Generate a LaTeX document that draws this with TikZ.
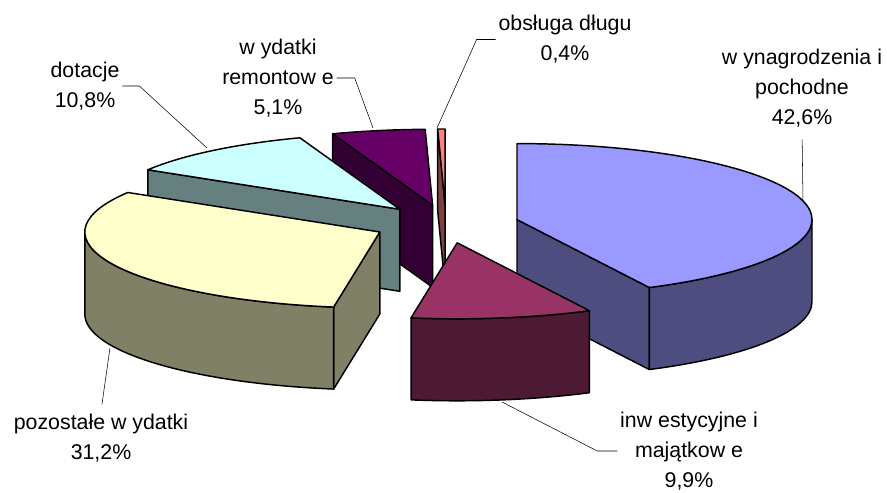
\documentclass[tikz,border=0pt]{standalone}
\usepackage{fontspec}
\setmainfont{Liberation Sans}
\usetikzlibrary{calc}
\definecolor{wyntop}{HTML}{9999FF}
\definecolor{wynside}{HTML}{4D4D80}
\definecolor{inwtop}{HTML}{993366}
\definecolor{inwside}{HTML}{4D1A33}
\definecolor{poztop}{HTML}{FFFFCC}
\definecolor{pozside}{HTML}{808066}
\definecolor{dottop}{HTML}{CCFFFF}
\definecolor{dotside}{HTML}{668080}
\definecolor{remtop}{HTML}{660066}
\definecolor{remside}{HTML}{330033}
\definecolor{obstop}{HTML}{FF8080}
\definecolor{obsside}{HTML}{804040}
\tikzstyle{fc}=[draw=black,line width=1.1pt,line join=round]
\tikzstyle{lbl}=[align=center,font=\fontsize{16}{22.5}\selectfont,inner sep=2pt]
\tikzstyle{ld}=[draw=black,line width=0.4pt]

\begin{document}
\begin{tikzpicture}[x=0.75pt,y=0.75pt]
\useasboundingbox (0,0) rectangle (887,492);
\coordinate (cobs) at (445.1,287);  \coordinate (cobsb) at (445.1,205);
\coordinate (crem) at (432.6,286.7); \coordinate (cremb) at (432.6,204.7);
\coordinate (cdot) at (399.8,282.7); \coordinate (cdotb) at (399.8,200.7);
\coordinate (cwyn) at (517,272.4);  \coordinate (cwynb) at (517,190.4);
\coordinate (cpoz) at (379.8,260);  \coordinate (cpozb) at (379.8,178);
\coordinate (cinw) at (457.2,249.2); \coordinate (cinwb) at (457.2,167.2);

\draw[fc,fill=obsside] (cobs) -- ++(91.44:295 and 76) -- ++(0,-82) -- (cobsb) -- cycle;
\draw[fc,fill=obstop] (cobs) -- ++(91.44:295 and 76) arc (91.44:90:295 and 76) -- cycle;

\draw[fc,fill=remside] (crem) -- ++(109.8:295 and 76) -- ++(0,-82) -- (cremb) -- cycle;
\draw[fc,fill=remtop] (crem) -- ++(109.8:295 and 76) arc (109.8:91.44:295 and 76) -- cycle;

\draw[fc,fill=dotside] (cdot) -- ++(148.68:295 and 76) -- ++(0,-82) -- (cdotb) -- cycle;
\draw[fc,fill=dottop] (cdot) -- ++(148.68:295 and 76) arc (148.68:109.8:295 and 76) -- cycle;

\draw[fc,fill=wynside] (cwyn) -- ++(-63.36:295 and 76) -- ++(0,-82) -- (cwynb) -- cycle;
\draw[fc,fill=wynside] (cwyn) ++(-63.36:295 and 76) arc (-63.36:0:295 and 76) -- ++(0,-82) arc (0:-63.36:295 and 76) -- cycle;
\draw[fc,fill=wyntop] (cwyn) -- ++(90:295 and 76) arc (90:-63.36:295 and 76) -- cycle;

\draw[fc,fill=pozside] (cpoz) -- ++(-99:295 and 76) -- ++(0,-82) -- (cpozb) -- cycle;
\draw[fc,fill=pozside] (cpoz) ++(180:295 and 76) arc (180:261:295 and 76) -- ++(0,-82) arc (261:180:295 and 76) -- cycle;
\draw[fc,fill=poztop] (cpoz) -- ++(261:295 and 76) arc (261:148.68:295 and 76) -- cycle;

\draw[fc,fill=inwside] (cinw) ++(-99:295 and 76) arc (-99:-63.36:295 and 76) -- ++(0,-82) arc (-63.36:-99:295 and 76) -- cycle;
\draw[fc,fill=inwtop] (cinw) -- ++(-63.36:295 and 76) arc (-63.36:-99:295 and 76) -- cycle;

\node[lbl] (lbldot) at (85,406) {dotacje\\10,8\%};
\node[lbl] (lblrem) at (278,414) {w ydatki\\remontow e\\5,1\%};
\node[lbl] (lblobs) at (565,452.5) {obsługa długu\\0,4\%};
\node[lbl] (lblwyn) at (802,404) {w ynagrodzenia i\\pochodne\\42,6\%};
\node[lbl] (lblpoz) at (101,54) {pozostałe w ydatki\\31,2\%};
\node[lbl] (lblinw) at (689,41) {inw estycyjne i\\majątkow e\\9,9\%};

\coordinate (pdot) at (207,344);
\coordinate (prem) at (373,364);
\coordinate (pobs) at (437,364);
\coordinate (pwyn) at (803,290);
\coordinate (ppoz) at (110,144);
\coordinate (pinw) at (502,90);

\draw[ld] (lbldot.east) -- ++(17,0) -- (pdot);
\draw[ld] (lblrem.east) -- ++(18,0) -- (prem);
\draw[ld] (lblobs.west) -- ++(-19,0) -- (pobs);
\draw[ld,shorten <=7pt] (lblwyn.south) -- (pwyn);
\draw[ld,shorten <=5pt] (lblpoz.north) -- (ppoz);
\draw[ld] (lblinw.west) -- ++(-20,0) -- (pinw);
\end{tikzpicture}
\end{document}
